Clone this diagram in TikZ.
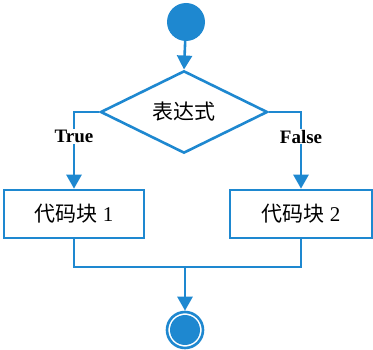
\documentclass[tikz,border=0pt]{standalone}
\usepackage{fontspec}
\setmainfont{Liberation Serif}
\newfontfamily\cjk{Noto Sans CJK SC}
\usepackage{xcolor}
\usepackage{tikz}
\usetikzlibrary{shapes.geometric, arrows.meta}
\definecolor{flowblue}{RGB}{30,136,208}

\begin{document}
\begin{tikzpicture}[x=1pt, y=-1pt,
    line/.style={draw=flowblue, line width=2.6pt},
    flow/.style={line, -{Triangle[length=14pt, width=15pt]}},
    block/.style={rectangle, draw=flowblue, line width=2.6pt, minimum width=140pt,
      minimum height=48pt, inner sep=0pt, font=\fontsize{21}{21}\selectfont},
    branch/.style={fill=white, inner sep=1pt, font=\bfseries\fontsize{19}{19}\selectfont}]
  \useasboundingbox (0,0) rectangle (373,350);
  % start and end points
  \node[circle, fill=flowblue, minimum size=38pt, inner sep=0pt] (start) at (186,22) {};
  \node[circle, draw=flowblue, line width=2.6pt, minimum size=36pt, inner sep=0pt] (stop) at (185,330) {};
  \fill[flowblue] (stop.center) circle (15pt);
  % condition and the two code blocks
  \node[diamond, draw=flowblue, line width=2.6pt, minimum width=167pt, minimum height=60pt,
    inner sep=0pt, font=\cjk\fontsize{21}{21}\selectfont] (cond) at (184,112) {表达式};
  \node[block] (blockA) at (74,214) {{\cjk 代码块} 1};
  \node[block, minimum width=142pt] (blockB) at (301,214) {{\cjk 代码块} 2};
  \coordinate (join) at (185,267);
  % connectors
  \draw[flow] (start) -- (cond.north);
  \draw[flow] (cond.west) -| node[branch, pos=0.66] {True} (blockA.north);
  \draw[flow] (cond.east) -| node[branch, pos=0.66] {False} (blockB.north);
  \draw[line] (blockA.south) |- (join) -| (blockB.south);
  \draw[flow] (join) -- (stop.north);
\end{tikzpicture}
\end{document}
